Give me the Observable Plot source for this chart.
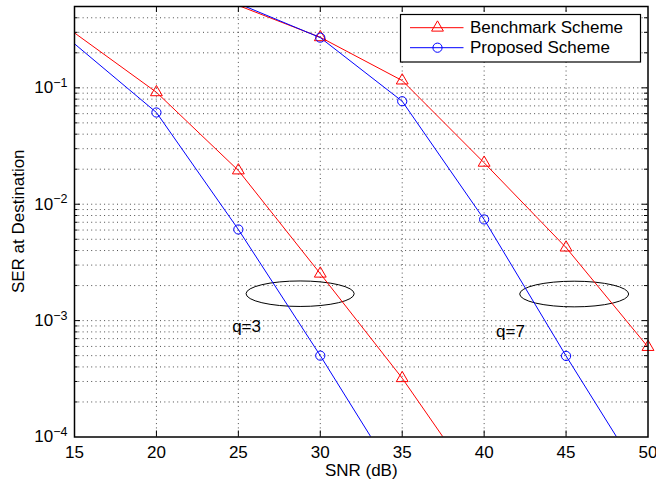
<!DOCTYPE html>
<html><head><meta charset="utf-8">
<script src="https://cdn.jsdelivr.net/npm/d3@7"></script>
<script src="https://cdn.jsdelivr.net/npm/@observablehq/plot@0.6"></script>
<style>body{margin:0;background:#fff;} svg{display:block;}</style>
</head><body><div id="chart"></div>
<script>
// ---- data ----
const seriesNames = ["Benchmark Scheme", "Proposed Scheme"];
const seriesColors = ["#ff0000", "#0000ff"];
const seriesSymbols = ["triangle", "circle"];

// q = 3
const q3BenchSNR = [10, 20, 25, 30, 35, 40];
const q3BenchSER = [0.96, 0.0916, 0.0195, 0.00253, 3.2e-4, 3.1e-5];
const q3PropSNR = [10, 20, 25, 30, 35];
const q3PropSER = [0.93, 0.0614, 0.00607, 5.0e-4, 3.7e-5];
// q = 7
const q7BenchSNR = [25, 30, 35, 40, 45, 50];
const q7BenchSER = [0.51, 0.272, 0.1155, 0.0227, 0.00424, 5.93e-4];
const q7PropSNR = [25, 30, 35, 40, 45, 50];
const q7PropSER = [0.53, 0.27, 0.0767, 0.0074, 4.97e-4, 3.7e-5];

const xTicks = [15, 20, 25, 30, 35, 40, 45, 50];
const yTicks = [1e-4, 1e-3, 1e-2, 1e-1];
const yTickLabels = ["10^-4", "10^-3", "10^-2", "10^-1"];
const xLabel = "SNR (dB)";
const yLabel = "SER at Destination";

const annotations = [
  {text: "q=3", snr: 24.62, ser: 7.94e-4},
  {text: "q=7", snr: 40.73, ser: 7.19e-4}
];
const ellipses = [
  {x1: 25.5, x2: 32.1, y1: 1.31e-3, y2: 2.17e-3},
  {x1: 42.2, x2: 48.85, y1: 1.30e-3, y2: 2.16e-3}
];

// ---- build table ----
const curves = [
  {id: "q3b", s: 0, snr: q3BenchSNR, ser: q3BenchSER},
  {id: "q3p", s: 1, snr: q3PropSNR, ser: q3PropSER},
  {id: "q7b", s: 0, snr: q7BenchSNR, ser: q7BenchSER},
  {id: "q7p", s: 1, snr: q7PropSNR, ser: q7PropSER}
];
const rows = curves.flatMap(c => c.snr.map((x, i) => ({id: c.id, s: c.s, snr: x, ser: c.ser[i], color: seriesColors[c.s]})));

const xDomain = [15, 50], yDomain = [1e-4, 0.5];
const W = 656, H = 479, mL = 74, mR = 8.5, mT = 6, mB = 42.5;
const plotW = W - mL - mR, plotH = H - mT - mB;
const inDomain = d => d.snr >= xDomain[0] && d.snr <= xDomain[1] && d.ser >= yDomain[0] * 0.999 && d.ser <= yDomain[1];

const yGrid = [];
for (let k = -4; k <= -1; k++) for (let m = 1; m <= 9; m++) {
  const v = m * Math.pow(10, k);
  if (v > 1.0001e-4 && v <= 0.5001) yGrid.push(v);
}
const yMinor = yGrid.filter(v => !yTicks.some(t => Math.abs(t - v) / t < 1e-6));
const yMajorIn = yTicks.filter(t => t > 1.0001e-4);
const xInner = xTicks.slice(1, -1);

function ellipseMark(index, scales) {
  const g = d3.create("svg:g");
  for (const e of ellipses) {
    const x1 = scales.x(e.x1), x2 = scales.x(e.x2), y1 = scales.y(e.y1), y2 = scales.y(e.y2);
    g.append("ellipse")
      .attr("cx", (x1 + x2) / 2).attr("cy", (y1 + y2) / 2)
      .attr("rx", Math.abs(x2 - x1) / 2).attr("ry", Math.abs(y1 - y2) / 2)
      .attr("fill", "none").attr("stroke", "#000").attr("stroke-width", 1);
  }
  return g.node();
}

const grid = {stroke: "#000", strokeOpacity: 0.7, strokeDasharray: "1,3.3", strokeWidth: 1};

const chart = Plot.plot({
  width: W, height: H,
  marginLeft: mL, marginRight: mR, marginTop: mT, marginBottom: mB,
  style: {fontFamily: "'Liberation Sans', Arial, Helvetica, sans-serif", fontSize: "17px", background: "#fff", color: "#000"},
  x: {domain: xDomain, axis: null},
  y: {type: "log", domain: yDomain, axis: null},
  color: {type: "identity"},
  marks: [
    Plot.ruleX(xInner, {x: d => d, ...grid}),
    Plot.ruleY(yGrid, {y: d => d, ...grid}),
    ellipseMark,
    Plot.line(rows, {x: "snr", y: "ser", z: "id", stroke: "color", strokeWidth: 1, clip: true}),
    Plot.dot(rows.filter(d => d.s === 0 && inDomain(d)), {x: "snr", y: "ser", symbol: seriesSymbols[0], r: 4.4, stroke: seriesColors[0], strokeWidth: 1, fill: "none"}),
    Plot.dot(rows.filter(d => d.s === 1 && inDomain(d)), {x: "snr", y: "ser", symbol: seriesSymbols[1], r: 4.6, stroke: seriesColors[1], strokeWidth: 1, fill: "none"}),
    Plot.text(annotations, {x: "snr", y: "ser", text: "text", textAnchor: "start", lineAnchor: "bottom", fontSize: 17, fill: "#000"}),
    Plot.frame({stroke: "#000", strokeWidth: 1.5}),
    // inward ticks
    Plot.tickX(xInner, {x: d => d, insetTop: plotH - 6, stroke: "#000"}),
    Plot.tickX(xInner, {x: d => d, insetBottom: plotH - 6, stroke: "#000"}),
    Plot.tickY(yMajorIn, {y: d => d, insetRight: plotW - 6, stroke: "#000"}),
    Plot.tickY(yMajorIn, {y: d => d, insetLeft: plotW - 6, stroke: "#000"}),
    Plot.tickY(yMinor, {y: d => d, insetRight: plotW - 3.5, stroke: "#000"}),
    Plot.tickY(yMinor, {y: d => d, insetLeft: plotW - 3.5, stroke: "#000"}),
    // tick labels
    Plot.text(xTicks, {x: d => d, text: d => String(d), frameAnchor: "bottom", dy: 9, lineAnchor: "top", fontSize: 17, fill: "#000"}),
    Plot.text(yTicks, {y: d => d, text: (d, i) => yTickLabels[i], frameAnchor: "left", dx: -7, textAnchor: "end", lineAnchor: "middle", fontSize: 17, fill: "#000"}),
    // axis labels
    Plot.text([xLabel], {text: d => d, frameAnchor: "bottom", dy: 38.5, lineAnchor: "bottom", fontSize: 17, fill: "#000"})
  ]
});

const svg = d3.select(chart);
// superscript exponents
svg.selectAll("text").each(function() {
  const t = this.textContent;
  const m = /^10\^(-?\d+)$/.exec(t);
  if (m) {
    const sel = d3.select(this);
    sel.text(null);
    sel.append("tspan").text("10");
    sel.append("tspan").attr("dy", "-0.5em").attr("font-size", "12.5px").text(m[1].replace("-", "\u2212"));
  }
});

// y label
svg.append("text")
  .attr("transform", `translate(18.5,${mT + plotH / 2}) rotate(-90)`)
  .attr("text-anchor", "middle").attr("dy", "0.32em")
  .attr("font-size", 17).attr("fill", "#000")
  .text(yLabel);

// legend
const lg = svg.append("g").attr("transform", `translate(${W - mR - 7 - 240},${mT + 8.5})`);
lg.append("rect").attr("width", 240).attr("height", 47.5).attr("fill", "#fff").attr("stroke", "#000").attr("stroke-width", 1.2);
seriesNames.forEach((name, i) => {
  const y = 13.2 + i * 20;
  lg.append("line").attr("x1", 9.5).attr("x2", 63).attr("y1", y).attr("y2", y).attr("stroke", seriesColors[i]).attr("stroke-width", 1);
  const sym = seriesSymbols[i] === "triangle" ? d3.symbolTriangle : d3.symbolCircle;
  const r = i === 0 ? 4.4 : 4.6;
  lg.append("path").attr("transform", `translate(37,${y})`).attr("d", d3.symbol(sym, Math.PI * r * r)())
    .attr("fill", "none").attr("stroke", seriesColors[i]).attr("stroke-width", 1);
  lg.append("text").attr("x", 69.5).attr("y", y).attr("dy", "0.34em")
    .attr("text-anchor", "start").attr("font-size", 17).attr("fill", "#000").text(name);
});

document.getElementById("chart").appendChild(chart);
</script>
</body></html>
